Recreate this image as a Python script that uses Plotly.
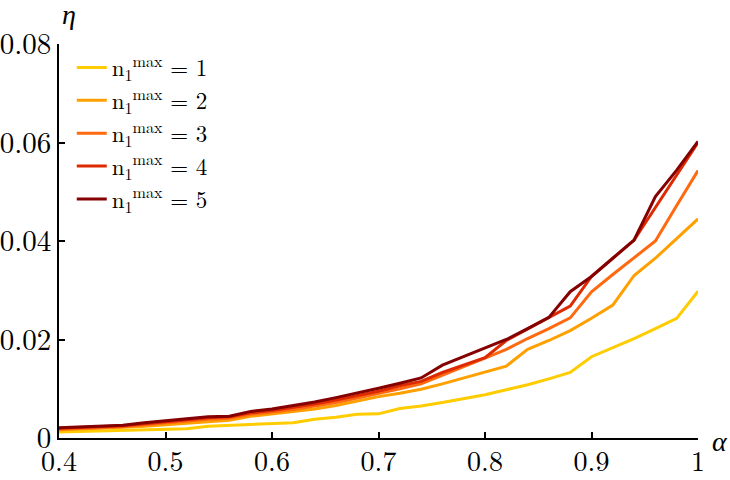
import plotly.graph_objects as go

alpha = [0.40, 0.42, 0.44, 0.46, 0.48, 0.50, 0.52, 0.54, 0.56, 0.58,
         0.60, 0.62, 0.64, 0.66, 0.68, 0.70, 0.72, 0.74, 0.76, 0.78,
         0.80, 0.82, 0.84, 0.86, 0.88, 0.90, 0.92, 0.94, 0.96, 0.98, 1.00]

eta_n1 = [0.0012, 0.0013, 0.0014, 0.0015, 0.0016, 0.0018, 0.0019, 0.0024, 0.0026, 0.0028,
          0.0029, 0.0031, 0.0038, 0.0042, 0.0048, 0.0049, 0.0060, 0.0065, 0.0072, 0.0080,
          0.0088, 0.0098, 0.0108, 0.0120, 0.0133, 0.0165, 0.0183, 0.0202, 0.0222, 0.0243, 0.0298]
eta_n2 = [0.0016, 0.0018, 0.0019, 0.0021, 0.0024, 0.0027, 0.0030, 0.0034, 0.0036, 0.0044,
          0.0049, 0.0053, 0.0059, 0.0066, 0.0075, 0.0084, 0.0091, 0.0099, 0.0110, 0.0122,
          0.0134, 0.0146, 0.0180, 0.0198, 0.0218, 0.0243, 0.0270, 0.0330, 0.0365, 0.0405, 0.0445]
eta_n3 = [0.0018, 0.0020, 0.0022, 0.0023, 0.0027, 0.0031, 0.0034, 0.0038, 0.0040, 0.0048,
          0.0053, 0.0058, 0.0065, 0.0072, 0.0081, 0.0090, 0.0100, 0.0110, 0.0128, 0.0145,
          0.0162, 0.0180, 0.0202, 0.0222, 0.0244, 0.0297, 0.0332, 0.0366, 0.0400, 0.0472, 0.0543]
eta_n4 = [0.0020, 0.0022, 0.0024, 0.0025, 0.0029, 0.0033, 0.0037, 0.0041, 0.0043, 0.0051,
          0.0056, 0.0062, 0.0069, 0.0077, 0.0086, 0.0095, 0.0106, 0.0115, 0.0133, 0.0148,
          0.0163, 0.0198, 0.0221, 0.0244, 0.0268, 0.0328, 0.0365, 0.0402, 0.0468, 0.0534, 0.0600]
eta_n5 = [0.0021, 0.0023, 0.0025, 0.0026, 0.0031, 0.0035, 0.0039, 0.0043, 0.0044, 0.0054,
          0.0059, 0.0066, 0.0073, 0.0082, 0.0091, 0.0101, 0.0111, 0.0122, 0.0148, 0.0165,
          0.0183, 0.0200, 0.0222, 0.0245, 0.0297, 0.0328, 0.0365, 0.0402, 0.0490, 0.0544, 0.0602]

series = [eta_n1, eta_n2, eta_n3, eta_n4, eta_n5]
labels = ["1", "2", "3", "4", "5"]
colors = ["#FFCC00", "#FFA000", "#FF6A10", "#DD2A00", "#850000"]

x_ticks = [0.4, 0.5, 0.6, 0.7, 0.8, 0.9, 1.0]
x_ticktext = ["0.4", "0.5", "0.6", "0.7", "0.8", "0.9", "1"]
y_ticks = [0, 0.02, 0.04, 0.06, 0.08]
y_ticktext = ["0", "0.02", "0.04", "0.06", "0.08"]

FONT = "Latin Modern Roman"
GREEK = "Liberation Serif"

fig = go.Figure()
for vals, lab, col in zip(series, labels, colors):
    fig.add_trace(go.Scatter(
        x=alpha, y=vals, mode="lines",
        line=dict(color=col, width=3),
        name="n<sub>1</sub><sup>max</sup> = " + lab,
    ))

fig.update_layout(
    width=730, height=480,
    margin=dict(l=59, r=32, t=44, b=42),
    paper_bgcolor="white", plot_bgcolor="white",
    font=dict(family=FONT, size=24, color="black"),
    showlegend=True,
    legend=dict(x=0.02, y=0.995, xanchor="left", yanchor="top",
                bgcolor="rgba(0,0,0,0)", font=dict(family=FONT, size=23, color="black"),
                tracegroupgap=0, itemwidth=30),
    xaxis=dict(range=[0.4, 1.0], tickvals=x_ticks, ticktext=x_ticktext,
               showline=True, linecolor="black", linewidth=2, automargin=False,
               ticks="inside", ticklen=6, tickwidth=1.5, tickcolor="black",
               showgrid=False, zeroline=False, ticklabelstandoff=-3,
               tickfont=dict(family=FONT, size=28, color="black")),
    yaxis=dict(range=[0, 0.08], tickvals=y_ticks, ticktext=y_ticktext,
               showline=True, linecolor="black", linewidth=2, automargin=False,
               ticks="inside", ticklen=6, tickwidth=1.5, tickcolor="black",
               showgrid=False, zeroline=False, ticklabelstandoff=0,
               tickfont=dict(family=FONT, size=29, color="black")),
    annotations=[
        dict(text="<i>η</i>", xref="paper", yref="paper", x=0.0, y=1.0,
             xanchor="left", yanchor="bottom", xshift=1, yshift=12, showarrow=False,
             font=dict(family=GREEK, size=28, color="black")),
        dict(text="<i>α</i>", xref="paper", yref="paper", x=1.0, y=0.0,
             xanchor="left", yanchor="middle", xshift=12, yshift=-3, showarrow=False,
             font=dict(family=GREEK, size=28, color="black")),
    ],
)

fig.write_html("out.html")
